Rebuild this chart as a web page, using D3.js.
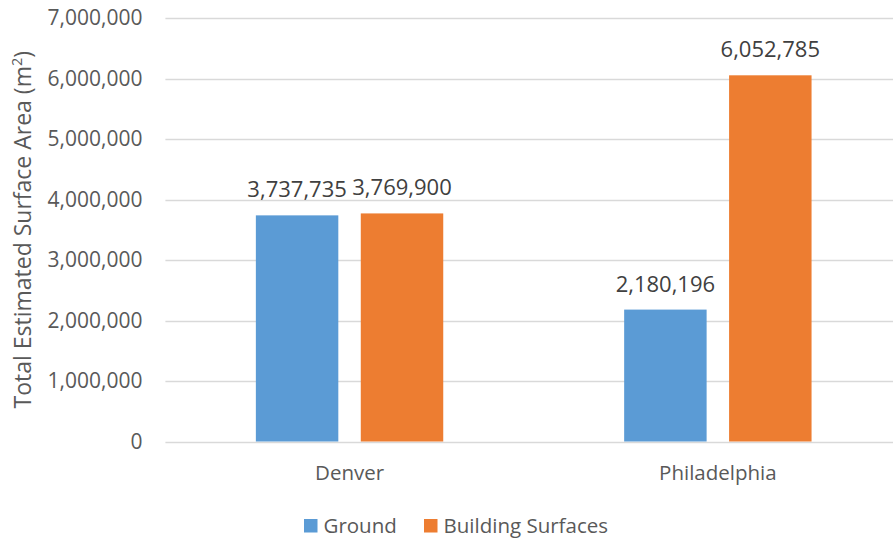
<!DOCTYPE html>
<html>
<head>
<meta charset="utf-8">
<script src="https://cdn.jsdelivr.net/npm/d3@7/dist/d3.min.js"></script>
<style>
  html, body { margin: 0; padding: 0; background: #fff; }
  svg { display: block; font-family: "Open Sans", "Noto Sans", sans-serif; }
</style>
</head>
<body>
<svg id="chart" width="893" height="539"></svg>
<script>
// Cities and surface areas (m²)
const cities = ["Denver", "Philadelphia"];
const seriesNames = ["Ground", "Building Surfaces"];
const groundValues = [3737735, 2180196];
const buildingValues = [3769900, 6052785];
const yTicks = [0, 1000000, 2000000, 3000000, 4000000, 5000000, 6000000, 7000000];
const colors = ["#5B9BD5", "#ED7D31"];

const svg = d3.select("#chart");
const plot = { left: 165.4, right: 902, top: 18, bottom: 441.5 };

const x0 = d3.scaleBand().domain(cities).range([plot.left, plot.right]).paddingInner(0).paddingOuter(0);
const y = d3.scaleLinear().domain([0, 7000000]).range([plot.bottom, plot.top]);

const step = x0.step();
const barW = step * 0.2239;
const gapW = step * 0.061;

const fmt = d3.format(",");
const textColor = "#595959";

// Gridlines
svg.append("g")
  .selectAll("line")
  .data(yTicks)
  .join("line")
  .attr("x1", plot.left)
  .attr("x2", plot.right)
  .attr("y1", d => Math.round(y(d)) + 0.5)
  .attr("y2", d => Math.round(y(d)) + 0.5)
  .attr("stroke", "#D9D9D9")
  .attr("stroke-width", 1.3);

// Y axis labels
const yAxis = d3.axisLeft(y).tickValues(yTicks).tickFormat(fmt).tickSize(0).tickPadding(0);
const yg = svg.append("g").attr("transform", `translate(${plot.left - 23},0)`).call(yAxis);
yg.select(".domain").remove();
yg.selectAll("text")
  .attr("fill", textColor)
  .attr("font-size", 21)
  .attr("font-family", "'Open Sans', sans-serif");

// X axis labels
const xAxis = d3.axisBottom(x0).tickSize(0).tickPadding(0);
const xg = svg.append("g").attr("transform", `translate(0,${plot.bottom})`).call(xAxis);
xg.select(".domain").remove();
xg.selectAll("text")
  .attr("fill", textColor)
  .attr("font-size", 20.5)
  .attr("dy", null)
  .attr("y", 38.5)
  .attr("font-family", "'Open Sans', sans-serif");

// Bars
const rows = cities.map((c, i) => ({ city: c, values: [groundValues[i], buildingValues[i]] }));
const groupW = barW * 2 + gapW;

const groups = svg.append("g")
  .selectAll("g")
  .data(rows)
  .join("g")
  .attr("transform", d => `translate(${x0(d.city) + (step - groupW) / 2},0)`);

groups.selectAll("rect")
  .data(d => d.values.map((v, k) => ({ v, k })))
  .join("rect")
  .attr("x", d => d.k * (barW + gapW))
  .attr("width", barW)
  .attr("y", d => y(d.v))
  .attr("height", d => y(0) - y(d.v))
  .attr("fill", d => colors[d.k]);

// Value labels
groups.selectAll("text")
  .data(d => d.values.map((v, k) => ({ v, k })))
  .join("text")
  .attr("x", d => d.k * (barW + gapW) + barW / 2)
  .attr("y", d => y(d.v) - 18)
  .attr("text-anchor", "middle")
  .attr("fill", "#404040")
  .attr("font-size", 22)
  .text(d => fmt(d.v));

// Y axis title
const title = svg.append("text")
  .attr("transform", `translate(31,${(plot.top + plot.bottom) / 2}) rotate(-90)`)
  .attr("text-anchor", "middle")
  .attr("fill", textColor)
  .attr("font-size", 23);
title.append("tspan").text("Total Estimated Surface Area (m");
title.append("tspan").attr("font-size", 14.5).attr("dy", -9).text("2");
title.append("tspan").attr("dy", 9).text(")");

// Legend
const legendItems = [{ name: seriesNames[0], x: 304 }, { name: seriesNames[1], x: 424 }];
const lg = svg.append("g");
legendItems.forEach((it, i) => {
  lg.append("rect")
    .attr("x", it.x).attr("y", 519)
    .attr("width", 13.5).attr("height", 13.5)
    .attr("fill", colors[i]);
  lg.append("text")
    .attr("x", it.x + 19.5).attr("y", 532.5)
    .attr("fill", textColor)
    .attr("font-size", 20.5)
    .text(it.name);
});
</script>
</body>
</html>
